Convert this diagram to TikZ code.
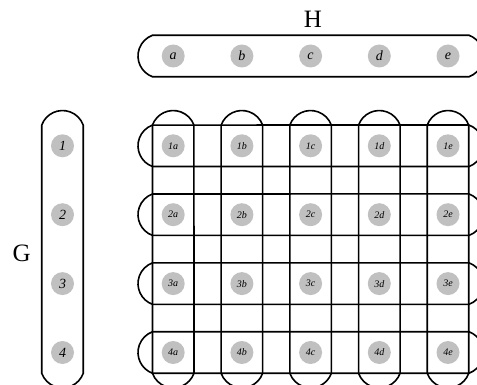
\documentclass[tikz,border=0pt]{standalone}
\usepackage{fontspec}
\setmainfont{Liberation Serif}
\usetikzlibrary{shapes.misc}
\definecolor{dotgray}{RGB}{192,192,192}

\begin{document}
\begin{tikzpicture}[x=1pt, y=-1pt, line width=1.6pt,
  hset/.style={draw, rounded rectangle, rounded rectangle arc length=140,
    minimum width=345.5pt, minimum height=41.5pt, inner sep=0pt},
  vset/.style={draw, rounded rectangle, rounded rectangle arc length=140,
    rotate=90, minimum width=277.3pt, minimum height=41.5pt, inner sep=0pt},
  vx/.style={circle, fill=dotgray, minimum size=23pt, inner sep=0pt,
    font=\fontsize{14}{14}\selectfont\itshape},
  px/.style={vx, font=\fontsize{10}{10}\selectfont\itshape}]

  \useasboundingbox (0,0) rectangle (477,385);
  \clip (0,0) rectangle (477,385);

  % Set labels
  \node[font=\fontsize{25}{25}\selectfont] (labH) at (313,19) {H};
  \node[font=\fontsize{25}{25}\selectfont] (labG) at (21.7,253.5) {G};

  % Sets H and G
  \node[hset] (setH) at (310.75,56) {};
  \node[vset] (setG) at (62.5,249.2) {};

  % Rows and columns of the product
  \node[hset] (row1) at (310.75,145.8) {};
  \node[hset] (row2) at (310.75,214.7) {};
  \node[hset] (row3) at (310.75,283.6) {};
  \node[hset] (row4) at (310.75,352.5) {};
  \node[vset] (colA) at (173.2,249.2) {};
  \node[vset] (colB) at (241.9,249.2) {};
  \node[vset] (colC) at (310.6,249.2) {};
  \node[vset] (colD) at (379.3,249.2) {};
  \node[vset] (colE) at (448.0,249.2) {};

  % Vertices of H
  \node[vx] (ha) at (173.2,56) {a};
  \node[vx] (hb) at (241.9,56) {b};
  \node[vx] (hc) at (310.6,56) {c};
  \node[vx] (hd) at (379.3,56) {d};
  \node[vx] (he) at (448.0,56) {e};

  % Vertices of G
  \node[vx] (g1) at (62.5,145.8) {1};
  \node[vx] (g2) at (62.5,214.7) {2};
  \node[vx] (g3) at (62.5,283.6) {3};
  \node[vx] (g4) at (62.5,352.5) {4};

  % Vertices of the product
  \node[px] (p1a) at (173.2,145.8) {1a};
  \node[px] (p1b) at (241.9,145.8) {1b};
  \node[px] (p1c) at (310.6,145.8) {1c};
  \node[px] (p1d) at (379.3,145.8) {1d};
  \node[px] (p1e) at (448.0,145.8) {1e};
  \node[px] (p2a) at (173.2,214.7) {2a};
  \node[px] (p2b) at (241.9,214.7) {2b};
  \node[px] (p2c) at (310.6,214.7) {2c};
  \node[px] (p2d) at (379.3,214.7) {2d};
  \node[px] (p2e) at (448.0,214.7) {2e};
  \node[px] (p3a) at (173.2,283.6) {3a};
  \node[px] (p3b) at (241.9,283.6) {3b};
  \node[px] (p3c) at (310.6,283.6) {3c};
  \node[px] (p3d) at (379.3,283.6) {3d};
  \node[px] (p3e) at (448.0,283.6) {3e};
  \node[px] (p4a) at (173.2,352.5) {4a};
  \node[px] (p4b) at (241.9,352.5) {4b};
  \node[px] (p4c) at (310.6,352.5) {4c};
  \node[px] (p4d) at (379.3,352.5) {4d};
  \node[px] (p4e) at (448.0,352.5) {4e};
\end{tikzpicture}
\end{document}
